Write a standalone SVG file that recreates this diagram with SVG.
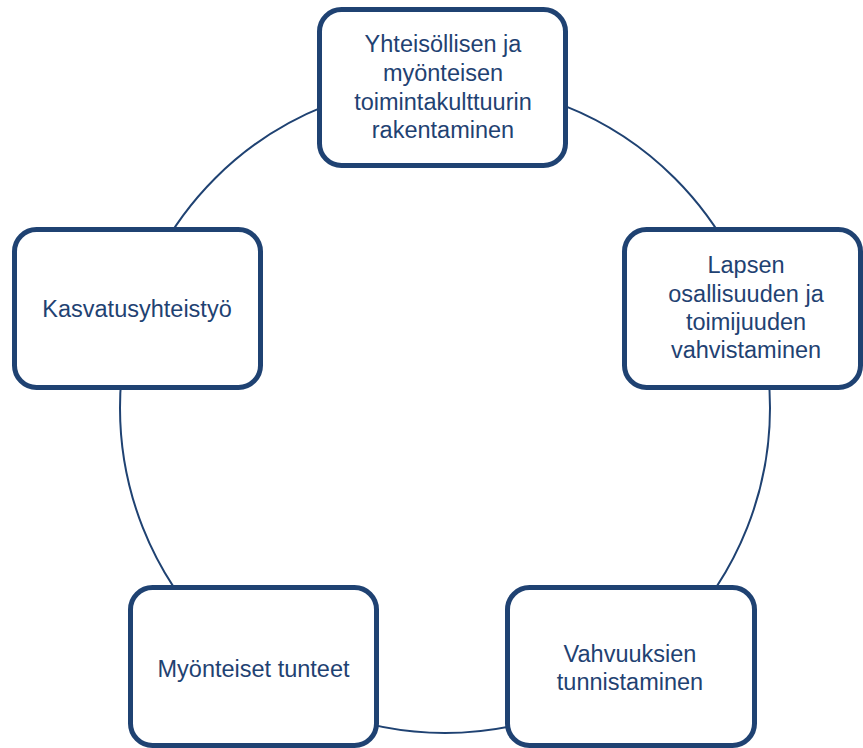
<svg xmlns="http://www.w3.org/2000/svg" width="863" height="748" viewBox="0 0 863 748">
<style>
.box{fill:#ffffff;stroke:#1F4272;stroke-width:5}
.lbl{font-family:"Liberation Sans",Arial,sans-serif;font-size:23.5px;fill:#1F4272;text-anchor:middle}
.ring{fill:none;stroke:#1F4272;stroke-width:2}
</style>
<rect width="863" height="748" fill="#ffffff"/>
<g id="connectors">
<circle class="ring" cx="445" cy="408" r="325"/>
</g>
<g id="node-top">
<rect class="box" x="319.5" y="9.5" width="246" height="156" rx="22"/>
<text class="lbl" x="443" y="52">Yhteisöllisen ja</text>
<text class="lbl" x="443" y="81">myönteisen</text>
<text class="lbl" x="443" y="110">toimintakulttuurin</text>
<text class="lbl" x="443" y="138">rakentaminen</text>
</g>
<g id="node-right">
<rect class="box" x="624.5" y="229.5" width="236" height="158" rx="22"/>
<text class="lbl" x="746" y="273">Lapsen</text>
<text class="lbl" x="746" y="302">osallisuuden ja</text>
<text class="lbl" x="746" y="330">toimijuuden</text>
<text class="lbl" x="746" y="358">vahvistaminen</text>
</g>
<g id="node-bottom-right">
<rect class="box" x="507.5" y="587.5" width="247" height="158" rx="22"/>
<text class="lbl" x="630" y="662">Vahvuuksien</text>
<text class="lbl" x="630" y="690">tunnistaminen</text>
</g>
<g id="node-bottom-left">
<rect class="box" x="130.5" y="587.5" width="246" height="158" rx="22"/>
<text class="lbl" x="253.5" y="677">Myönteiset tunteet</text>
</g>
<g id="node-left">
<rect class="box" x="14.5" y="229.5" width="246" height="158" rx="22"/>
<text class="lbl" x="137" y="317">Kasvatusyhteistyö</text>
</g>
</svg>
